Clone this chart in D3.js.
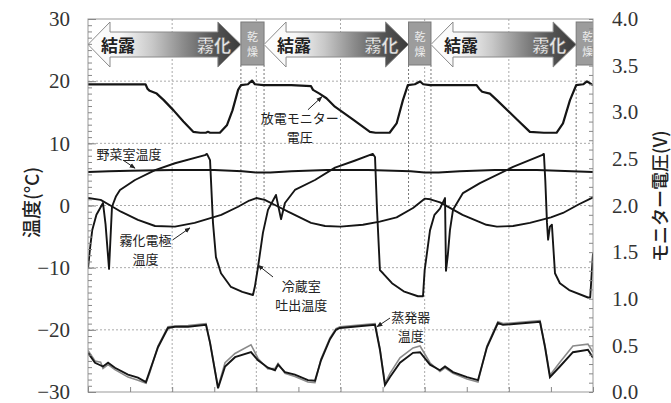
<!DOCTYPE html>
<html>
<head>
<meta charset="utf-8">
<script src="https://cdn.jsdelivr.net/npm/d3@7"></script>
<style>
  body { margin: 0; background: #fff; }
  svg { display: block; }
</style>
</head>
<body>
<div id="chart"></div>
<script>
// time in minutes, temperatures in °C, voltage in V
var tempTicks = [-30, -20, -10, 0, 10, 20, 30];
var voltTicks = [0, 0.5, 1, 1.5, 2, 2.5, 3, 3.5, 4];

// phases: 結露→霧化 arrow, then 乾燥 box
var condStart = [0, 125.5, 244.5];
var mistEnd = [109, 228.5, 348];
var dryEnd = [125.5, 244.5, 364.5];

var voltage = [[0,3.30],[20,3.30],[41,3.30],[42.5,3.25],[44,3.23],[49,3.20],[54,3.13],[61,3.02],[68,2.90],[75,2.79],[80,2.78],[84,2.78],[85.5,2.79],[87,2.78],[94,2.78],[99,2.86],[103,3.02],[107,3.24],[109,3.29],[114,3.30],[116.9,3.34],[119,3.30],[125,3.29],[145,3.29],[159,3.28],[160.4,3.24],[165,3.20],[170,3.15],[176,3.06],[189,2.92],[201,2.79],[205,2.78],[215,2.78],[220,2.88],[224.5,3.13],[228,3.29],[233,3.30],[236.7,3.33],[239,3.30],[243.8,3.29],[260,3.29],[277,3.29],[279,3.25],[281,3.22],[286.5,3.20],[291.5,3.13],[306,2.92],[315,2.79],[325,2.78],[334,2.78],[338.6,2.88],[343.6,3.13],[348,3.29],[353,3.30],[355.7,3.33],[358,3.31],[360,3.29]];

var vegRoom = [[0,5.4],[15,5.5],[30,5.6],[60,5.7],[90,5.7],[110,5.5],[120,5.3],[130,5.3],[145,5.5],[170,5.7],[200,5.7],[230,5.5],[240,5.3],[250,5.3],[265,5.5],[290,5.7],[320,5.7],[345,5.5],[360,5.4]];

var electrode = [[0,1.2],[9,0.9],[16,0],[23.5,-1.0],[35.6,-2.3],[47.8,-3.3],[62,-3.4],[76,-2.8],[95,-1.5],[107,-0.2],[115,0.8],[120,1.2],[126,0.9],[134,0],[142.6,-1.0],[159,-2.8],[169,-3.3],[180,-3.4],[196,-3.1],[208,-2.6],[220,-1.9],[231.7,-0.4],[240,1.1],[244,1.0],[251,0.5],[267,-1.5],[284,-3.1],[291.5,-3.4],[303,-3.3],[315,-2.8],[330,-1.9],[338.6,-1.2],[350,0.2],[360,1.3]];

var fridgeOut = [[0,-10.1],[1.4,-7],[3,-4],[6,-1.5],[10.7,0.4],[12.5,-3],[15,-10.2],[17.1,-0.2],[20,1.5],[22.8,2.5],[33.5,4.1],[47.8,5.7],[62,6.8],[83.4,8.1],[84.8,8.3],[87,7.3],[89.1,-2.8],[91.2,-8.3],[94.8,-10.9],[101.9,-13.1],[110,-13.9],[117.6,-14.4],[119,-13],[121.2,-9.9],[124.7,-4.4],[128.3,-0.7],[134,1.7],[137.6,-2.2],[140.4,0.4],[147.5,2.5],[161.8,4.1],[176.1,6.1],[190,7.2],[203,8.3],[204.6,7.8],[206,-0.5],[208.1,-10.4],[210.3,-10.9],[216.7,-12.5],[225,-13.8],[235.2,-14.6],[238.8,-14.6],[240,-10.4],[243.8,-4],[247,-1.5],[250.9,-0.5],[254.5,1.2],[255.2,-10.5],[256.5,-8],[258,-4],[260.2,-0.7],[267.3,2],[279.4,3.6],[303,6.2],[323.6,8.1],[325,8.3],[326,4],[327.2,-2.8],[328,-5.5],[329.3,-3.4],[330.7,-3.1],[332.9,-10.9],[336.4,-12.5],[343,-13.6],[356.4,-14.8],[358,-14.8],[360,-7.7]];

var evapBlack = [[0,-23.7],[5,-25.3],[10.7,-25.9],[14.3,-25.3],[19.2,-26.1],[28.5,-27.2],[35.6,-27.7],[41.3,-28.4],[44.2,-26.5],[49.9,-22.8],[57,-19.7],[62,-19.5],[71.3,-19.5],[84.1,-19.2],[87,-22.1],[92.7,-29.4],[97.7,-25.9],[104.8,-24.4],[116.2,-23.6],[121.2,-24.9],[128.3,-26.1],[133.3,-26.5],[135.5,-25.6],[140.4,-26.8],[147.5,-27.2],[156.8,-28.1],[161.8,-28.2],[166.1,-24.9],[172.5,-21.5],[176.8,-20.0],[179.6,-19.7],[204.6,-19.2],[208.1,-23.2],[211.7,-28.9],[215.3,-27.6],[222.4,-25.3],[231.7,-23.7],[236.7,-23.6],[243.8,-25.6],[250.9,-26.5],[254.5,-25.9],[260.2,-26.8],[270.2,-27.6],[278,-28.1],[284.4,-22.8],[292.2,-18.9],[295.8,-19.2],[322.2,-18.7],[325.8,-22.8],[329.3,-27.6],[336.4,-25.9],[345.7,-23.6],[356.4,-23.2],[360,-24.5]];

var evapGray = [[0,-23.3],[5,-25.0],[9,-25.2],[10.7,-26.2],[14.3,-25.6],[19.2,-26.4],[28.5,-27.6],[35.6,-28.1],[41.3,-28.6],[44.2,-26.8],[49.9,-22.6],[57,-19.5],[62,-19.4],[71.3,-19.3],[84.1,-19.0],[87,-22.0],[92.7,-29.2],[97.7,-25.3],[104.8,-23.8],[116.2,-22.4],[121.2,-24.6],[128.3,-26.3],[133.3,-26.2],[135.5,-25.4],[140.4,-27.0],[147.5,-27.5],[156.8,-28.4],[161.8,-28.5],[166.1,-24.7],[172.5,-21.3],[176.8,-19.8],[179.6,-19.5],[204.6,-19.0],[208.1,-23.0],[211.7,-28.6],[215.3,-27.0],[222.4,-24.5],[231.7,-22.9],[236.7,-22.6],[243.8,-25.3],[250.9,-26.7],[254.5,-26.1],[260.2,-27.0],[270.2,-27.9],[278,-28.4],[284.4,-22.6],[292.2,-18.7],[295.8,-19.0],[322.2,-18.5],[325.8,-22.6],[329.3,-27.3],[336.4,-25.2],[345.7,-22.6],[356.4,-22.3],[360,-23.6]];

// labels with arrows, in data coordinates
var notes = [
  {lines: ["放電モニター", "電圧"], at: [151, 14.1], from: [156.8, 15.4], to: [166.8, 17.5]},
  {lines: ["野菜室温度"], at: [29.2, 8.4], from: [25, 7.3], to: [33.5, 6.0]},
  {lines: ["霧化電極", "温度"], at: [41, -5.5], from: [60.6, -5.5], to: [72.7, -3.6]},
  {lines: ["冷蔵室", "吐出温度"], at: [152, -12.8], from: [131.9, -11.5], to: [121.2, -9.6]},
  {lines: ["蒸発器", "温度"], at: [230, -17.9], from: [215.3, -18.1], to: [206, -19.5]}
];

var W = 671, H = 403;
var margin = {top: 19, right: 78, bottom: 11, left: 88},
    width = W - margin.left - margin.right,
    height = H - margin.top - margin.bottom;

var svg = d3.select("#chart").append("svg")
    .attr("width", W).attr("height", H);

var g = svg.append("g")
    .attr("transform", "translate(" + margin.left + "," + margin.top + ")");

var x = d3.scaleLinear().domain([0, 360]).range([0, width]);
var y = d3.scaleLinear().domain([-30, 30]).range([height, 0]);
var yV = d3.scaleLinear().domain([0, 4]).range([height, 0]);

var defs = svg.append("defs");
defs.append("clipPath").attr("id", "clip")
  .append("rect").attr("width", width).attr("height", height);

var grad = defs.append("linearGradient").attr("id", "band");
[[0, "#ffffff"], [0.22, "#f6f6f6"], [0.42, "#c8c8c8"], [0.62, "#8c8c8c"], [0.82, "#555"], [1, "#3a3a3a"]]
  .forEach(function(s) { grad.append("stop").attr("offset", s[0]).attr("stop-color", s[1]); });

defs.append("marker").attr("id", "tip")
    .attr("viewBox", "0 0 10 10").attr("refX", 9).attr("refY", 5)
    .attr("markerWidth", 6).attr("markerHeight", 6).attr("orient", "auto")
  .append("path").attr("d", "M0,1 L10,5 L0,9 Z").attr("fill", "#222");

// grid
g.append("g").selectAll("line").data([60, 120, 180, 240, 300]).enter().append("line")
  .attr("x1", function(d) { return x(d); }).attr("x2", function(d) { return x(d); })
  .attr("y1", 0).attr("y2", height)
  .attr("stroke", "#aaa").attr("stroke-dasharray", "2,2");
g.append("g").selectAll("line").data([-20, -10, 0, 10, 20]).enter().append("line")
  .attr("x1", 0).attr("x2", width)
  .attr("y1", function(d) { return y(d); }).attr("y2", function(d) { return y(d); })
  .attr("stroke", "#aaa").attr("stroke-dasharray", "2,2");

// phase boundaries
var bounds = mistEnd.concat(dryEnd.filter(function(d) { return d < 360; }));
g.append("g").selectAll("line").data(bounds).enter().append("line")
  .attr("x1", function(d) { return x(d); }).attr("x2", function(d) { return x(d); })
  .attr("y1", 46).attr("y2", y(0))
  .attr("stroke", "#777").attr("stroke-dasharray", "2,2");

// phase band
var band = g.append("g").attr("clip-path", "url(#clip)");
var top0 = 3, top1 = 13, bot1 = 38, bot0 = 48, mid = 25.5;
condStart.forEach(function(c, i) {
  var a = x(c), b = x(mistEnd[i]);
  var p = d3.path();
  p.moveTo(a, mid); p.lineTo(a + 22, top0); p.lineTo(a + 22, top1);
  p.lineTo(b - 23, top1); p.lineTo(b - 23, top0); p.lineTo(b, mid);
  p.lineTo(b - 23, bot0); p.lineTo(b - 23, bot1); p.lineTo(a + 22, bot1);
  p.lineTo(a + 22, bot0); p.closePath();
  band.append("path").attr("d", p.toString())
    .attr("fill", "url(#band)").attr("stroke", "#8a8a8a").attr("stroke-width", 1);
  band.append("text").attr("x", a + 30).attr("y", mid)
    .attr("text-anchor", "middle").attr("dominant-baseline", "central")
    .style("font", "bold 17px 'Noto Sans CJK JP'").attr("fill", "#222")
    .text("結露");
  band.append("text").attr("x", b - 27).attr("y", mid)
    .attr("text-anchor", "middle").attr("dominant-baseline", "central")
    .style("font", "bold 17px 'Noto Sans CJK JP'").attr("fill", "#e8e8e8")
    .attr("stroke", "#666").attr("stroke-width", 0.4)
    .text("霧化");

  var d0 = x(mistEnd[i]), d1 = x(dryEnd[i]);
  band.append("rect").attr("x", d0).attr("y", top0).attr("width", d1 - d0).attr("height", 43)
    .attr("fill", "#9c9c9c").attr("stroke", "#7a7a7a");
  band.selectAll(null).data(["乾", "燥"]).enter().append("text")
    .attr("x", (x(mistEnd[i]) + x(mistEnd[i] + 16.5)) / 2)
    .attr("y", function(d, k) { return 17 + k * 15; })
    .attr("text-anchor", "middle").attr("dominant-baseline", "central")
    .style("font", "11px 'Noto Sans CJK JP'").attr("fill", "#eee")
    .text(function(d) { return d; });
});

// series
var plot = g.append("g").attr("clip-path", "url(#clip)");
var lineT = d3.line().x(function(d) { return x(d[0]); }).y(function(d) { return y(d[1]); });
var lineV = d3.line().x(function(d) { return x(d[0]); }).y(function(d) { return yV(d[1]); });

plot.append("path").datum(evapGray).attr("d", lineT)
  .attr("fill", "none").attr("stroke", "#8a8a8a").attr("stroke-width", 1.6);
plot.append("path").datum(evapBlack).attr("d", lineT)
  .attr("fill", "none").attr("stroke", "#151515").attr("stroke-width", 1.9);
[vegRoom, electrode, fridgeOut].forEach(function(s) {
  plot.append("path").datum(s).attr("d", lineT)
    .attr("fill", "none").attr("stroke", "#151515").attr("stroke-width", 1.9)
    .attr("stroke-linejoin", "round");
});
plot.append("path").datum(voltage).attr("d", lineV)
  .attr("fill", "none").attr("stroke", "#151515").attr("stroke-width", 2.2)
  .attr("stroke-linejoin", "round");

// frame and ticks
g.append("rect").attr("width", width).attr("height", height)
  .attr("fill", "none").attr("stroke", "#999");

function tickStyle(sel) {
  sel.select(".domain").remove();
  sel.selectAll("line").attr("stroke", "#888");
  sel.selectAll("text").remove();
}
g.append("g").call(d3.axisRight(y).tickValues(d3.range(-30, 31, 1)).tickSize(4)).call(tickStyle);
g.append("g").call(d3.axisRight(y).tickValues(tempTicks).tickSize(8)).call(tickStyle);
g.append("g").attr("transform", "translate(" + width + ",0)")
  .call(d3.axisLeft(yV).tickValues(d3.range(0, 4.01, 0.1)).tickSize(4)).call(tickStyle);
g.append("g").attr("transform", "translate(0," + height + ")")
  .call(d3.axisTop(x).tickValues(d3.range(0, 361, 30)).tickSize(5)).call(tickStyle);

// tick labels
var yAxis = g.append("g").call(d3.axisLeft(y).tickValues(tempTicks).tickSize(0).tickPadding(18));
yAxis.select(".domain").remove();
yAxis.selectAll("text").style("font", "21px 'Liberation Serif'").attr("fill", "#333");

var vAxis = g.append("g").attr("transform", "translate(" + width + ",0)")
  .call(d3.axisRight(yV).tickValues(voltTicks).tickSize(0).tickPadding(19).tickFormat(d3.format(".1f")));
vAxis.select(".domain").remove();
vAxis.selectAll("text").style("font", "21px 'Liberation Serif'").attr("fill", "#333");

// axis titles
svg.append("text")
  .attr("transform", "translate(30," + (margin.top + y(0.5)) + ") rotate(-90)")
  .attr("text-anchor", "middle").attr("dominant-baseline", "central")
  .style("font", "500 19px 'Noto Sans CJK JP'").attr("fill", "#222")
  .text("温度(°C)");
svg.append("text")
  .attr("transform", "translate(659," + (margin.top + yV(2.1)) + ") rotate(-90)")
  .attr("text-anchor", "middle").attr("dominant-baseline", "central")
  .style("font", "500 18px 'Noto Sans CJK JP'").attr("fill", "#222")
  .text("モニター電圧(V)");

// annotations
notes.forEach(function(n) {
  g.append("line")
    .attr("x1", x(n.from[0])).attr("y1", y(n.from[1]))
    .attr("x2", x(n.to[0])).attr("y2", y(n.to[1]))
    .attr("stroke", "#222").attr("stroke-width", 1).attr("marker-end", "url(#tip)");
  n.lines.forEach(function(t, k) {
    g.append("text").attr("x", x(n.at[0])).attr("y", y(n.at[1]) + k * 19)
      .attr("text-anchor", "middle").attr("dominant-baseline", "central")
      .style("font", "13px 'Noto Sans CJK JP'").attr("fill", "#222")
      .text(t);
  });
});
</script>
</body>
</html>
